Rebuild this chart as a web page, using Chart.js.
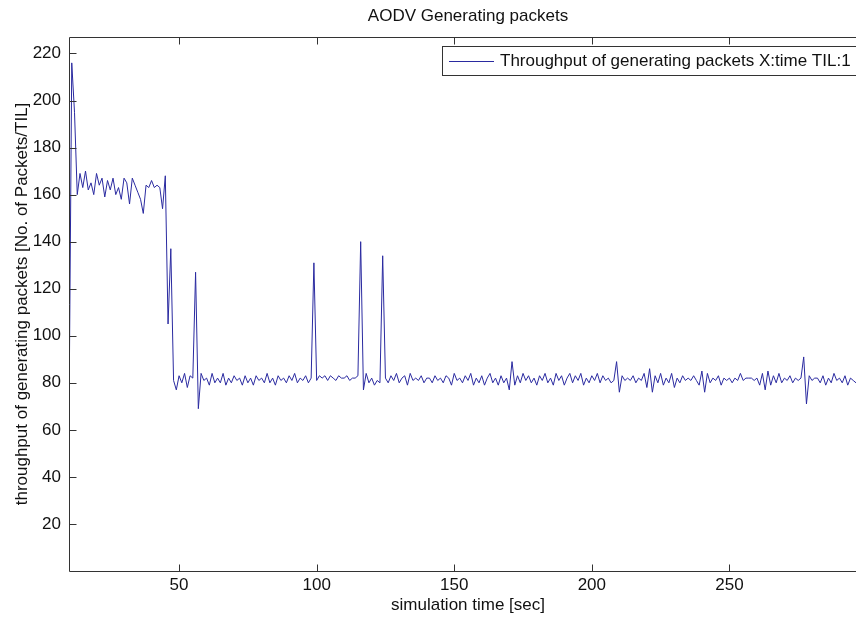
<!DOCTYPE html>
<html>
<head>
<meta charset="utf-8">
<script src="https://cdn.jsdelivr.net/npm/chart.js@4.4.1/dist/chart.umd.min.js"></script>
<style>
  html, body { margin: 0 ; padding: 0 ; background: #ffffff ; overflow: hidden ; }
  /* the original figure is cut off on the right, so the canvas runs past the window */
  #graphWrap { width: 867px ; height: 619px ; position: relative ; }
</style>
</head>
<body>
<div id="graphWrap"><canvas id="aodvGraph"></canvas></div>
<script>
// ---------------- Data ---------------------------------------------------
// One sample per second of simulation time, first sample at t = 10 sec
const startTime = 10 ;
const packetsPerTil = [
    // t = 10 .. 19
    65, 216, 195, 160, 169, 163, 170, 162, 165, 160,
    // t = 20
    169, 164, 167, 159, 166, 162, 167, 160, 163, 158,
    // t = 30
    167, 165, 156, 167, 164, 161, 158, 152, 164, 163,
    // t = 40
    166, 163, 164, 163, 154, 168, 105, 137, 81, 77,
    // t = 50
    83, 80, 84, 78, 83, 82, 127, 69, 84, 81,
    // t = 60
    82, 79, 84, 80, 82, 80, 84, 79, 82, 80,
    // t = 70
    83, 81, 82, 79, 83, 80, 82, 79, 83, 81,
    // t = 80
    82, 80, 84, 80, 82, 79, 83, 81, 82, 80,
    // t = 90
    83, 81, 84, 80, 82, 81, 83, 80, 82, 131,
    // t = 100
    81, 83, 82, 83, 81, 83, 82, 81, 83, 82,
    // t = 110
    82, 83, 81, 82, 82, 83, 140, 77, 84, 80,
    // t = 120
    82, 79, 81, 80, 134, 82, 80, 83, 81, 84,
    // t = 130
    80, 82, 83, 79, 84, 81, 82, 81, 83, 80,
    // t = 140
    82, 82, 80, 83, 81, 82, 80, 83, 82, 79,
    // t = 150
    84, 81, 82, 80, 83, 81, 84, 79, 82, 80,
    // t = 160
    83, 79, 82, 84, 80, 82, 79, 83, 80, 82,
    // t = 170
    77, 89, 79, 83, 80, 84, 81, 83, 80, 82,
    // t = 180
    79, 83, 81, 84, 80, 82, 79, 84, 81, 83,
    // t = 190
    79, 82, 84, 80, 83, 81, 84, 79, 82, 80,
    // t = 200
    83, 81, 84, 80, 83, 81, 82, 80, 81, 89,
    // t = 210
    76, 83, 81, 82, 81, 83, 80, 82, 81, 84,
    // t = 220
    78, 86, 76, 83, 80, 84, 79, 82, 80, 84,
    // t = 230
    78, 82, 80, 83, 81, 82, 81, 83, 81, 79,
    // t = 240
    85, 76, 84, 80, 82, 81, 83, 79, 82, 81,
    // t = 250
    82, 80, 82, 81, 84, 81, 82, 82, 82, 81,
    // t = 260
    82, 79, 84, 77, 85, 79, 83, 80, 84, 80,
    // t = 270
    82, 81, 83, 80, 82, 81, 82, 91, 71, 83,
    // t = 280
    81, 82, 82, 80, 83, 79, 82, 80, 84, 81,
    // t = 290 .. 297
    82, 80, 83, 79, 82, 81, 80, 82
] ;
const seriesLabel = 'Throughput of generating packets X:time TIL:1' ;
const xTicks = [ 50, 100, 150, 200, 250 ] ;
const yTicks = [ 20, 40, 60, 80, 100, 120, 140, 160, 180, 200, 220 ] ;
const xLimits = [ 10, 300 ] ;
const yLimits = [ 0, 227 ] ;

// ---------------- Style --------------------------------------------------
const lineColor = '#2a2aa0' ;
const axisColor = '#333333' ;
const textColor = '#111111' ;
const fontFamily = '"Liberation Sans", Arial, sans-serif' ;
const fontSize = 17 ;
const tickLen = 7 ;

// ---------------- Local functions ----------------------------------------
function buildPoints() {
    return packetsPerTil.map( ( v, i ) => ( { x: startTime + i, y: v } ) ) ;
}

function useTicks( list ) {
    return function( scale ) {
        scale.ticks = list.map( v => ( { value: v } ) ) ;
    } ;
}

// Draws the MATLAB style box, inward ticks and the legend
const matlabFrame = {
    id: 'matlabFrame',
    afterDatasetsDraw( chart ) {
        const ctx = chart.ctx ;
        const a = chart.chartArea ;
        const xs = chart.scales.x ;
        const ys = chart.scales.y ;
        const l = Math.round( a.left ) + 0.5 ;
        const r = Math.round( a.right ) - 0.5 ;
        const t = Math.round( a.top ) + 0.5 ;
        const b = Math.round( a.bottom ) + 0.5 ;

        ctx.save() ;
        ctx.strokeStyle = axisColor ;
        ctx.lineWidth = 1 ;
        ctx.beginPath() ;
        ctx.moveTo( l, t ) ; ctx.lineTo( r, t ) ; ctx.lineTo( r, b ) ;
        ctx.lineTo( l, b ) ; ctx.closePath() ;

        xTicks.forEach( v => {
            const px = Math.round( xs.getPixelForValue( v ) ) + 0.5 ;
            ctx.moveTo( px, b ) ; ctx.lineTo( px, b - tickLen ) ;
            ctx.moveTo( px, t ) ; ctx.lineTo( px, t + tickLen ) ;
        } ) ;
        yTicks.forEach( v => {
            const py = Math.round( ys.getPixelForValue( v ) ) + 0.5 ;
            ctx.moveTo( l, py ) ; ctx.lineTo( l + tickLen, py ) ;
            ctx.moveTo( r, py ) ; ctx.lineTo( r - tickLen, py ) ;
        } ) ;
        ctx.stroke() ;

        // legend box in the upper right corner
        const boxL = 442.5, boxT = 46.5, boxH = 29 ;
        ctx.fillStyle = '#ffffff' ;
        ctx.fillRect( boxL, boxT, chart.width - boxL + 20, boxH ) ;
        ctx.strokeRect( boxL, boxT, chart.width - boxL + 20, boxH ) ;
        const midY = Math.round( boxT + boxH / 2 ) + 0.5 ;
        ctx.strokeStyle = lineColor ;
        ctx.beginPath() ;
        ctx.moveTo( 449, midY ) ; ctx.lineTo( 494, midY ) ;
        ctx.stroke() ;
        ctx.fillStyle = textColor ;
        ctx.font = fontSize + 'px ' + fontFamily ;
        ctx.textBaseline = 'middle' ;
        ctx.textAlign = 'left' ;
        ctx.fillText( chart.data.datasets[ 0 ].label, 500, midY ) ;
        ctx.restore() ;
    }
} ;

// ---------------- Chart --------------------------------------------------
function drawChart() {
    const ctx = document.getElementById( 'aodvGraph' ).getContext( '2d' ) ;
    const font = { family: fontFamily, size: fontSize, weight: 'normal' } ;

    new Chart( ctx, {
        type: 'line',
        data: {
            datasets: [ {
                label: seriesLabel,
                data: buildPoints(),
                borderColor: lineColor,
                borderWidth: 1,
                pointRadius: 0,
                tension: 0,
                fill: false
            } ]
        },
        options: {
            responsive: true,
            maintainAspectRatio: false,
            animation: false,
            devicePixelRatio: 1,
            layout: { padding: 0 },
            plugins: {
                legend: { display: false },
                tooltip: { enabled: false },
                title: {
                    display: true,
                    fullSize: false,
                    text: 'AODV Generating packets',
                    color: textColor,
                    font: font,
                    padding: { top: 6, bottom: 10.6 }
                }
            },
            scales: {
                x: {
                    type: 'linear',
                    min: xLimits[ 0 ],
                    max: xLimits[ 1 ],
                    afterBuildTicks: useTicks( xTicks ),
                    afterFit: s => { s.height = 48 ; },
                    grid: { display: false, drawTicks: false },
                    border: { display: false },
                    ticks: {
                        color: textColor,
                        padding: 4,
                        maxRotation: 0,
                        font: font
                    },
                    title: {
                        display: true,
                        text: 'simulation time [sec]',
                        color: textColor,
                        font: font,
                        padding: { top: 0, bottom: 3 }
                    }
                },
                y: {
                    type: 'linear',
                    min: yLimits[ 0 ],
                    max: yLimits[ 1 ],
                    afterBuildTicks: useTicks( yTicks ),
                    afterFit: s => { s.width = 69 ; },
                    grid: { display: false, drawTicks: false },
                    border: { display: false },
                    ticks: {
                        color: textColor,
                        padding: 8,
                        font: font
                    },
                    title: {
                        display: true,
                        text: 'throughput of generating packets [No. of Packets/TIL]',
                        color: textColor,
                        font: font,
                        padding: { top: 12, bottom: 0 }
                    }
                }
            }
        },
        plugins: [ matlabFrame ]
    } ) ;
}

drawChart() ;
</script>
</body>
</html>
